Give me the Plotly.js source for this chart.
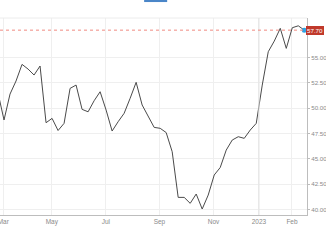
<!DOCTYPE html>
<html>
<head>
<meta charset="utf-8">
<script src="https://cdn.plot.ly/plotly-3.0.1.min.js"></script>
<style>html,body{margin:0;padding:0;background:#fff;}#chart{width:326px;height:245px;}</style>
</head>
<body>
<div id="chart"></div>
<script>
// Weekly values
const values = [51.5, 48.83, 51.39, 52.68, 54.32, 53.86, 53.27, 54.16, 48.56, 48.99,
  47.79, 48.50, 51.95, 52.28, 49.88, 49.64, 50.73, 51.62, 49.81, 47.74,
  48.66, 49.49, 50.97, 52.55, 50.31, 49.15, 48.10, 48.01, 47.59, 45.70,
  41.19, 41.19, 40.60, 41.52, 40.04, 41.42, 43.40, 44.14, 45.86, 46.85,
  47.18, 47.02, 47.84, 48.50, 52.28, 55.57, 56.62, 57.88, 55.90, 57.94,
  58.13, 57.70];
const xTickLabels = ["Mar", "May", "Jul", "Sep", "Nov", "2023", "Feb"];
const yTickValues = [40, 42.5, 45, 47.5, 50, 52.5, 55];
const lastValue = values[values.length - 1];

const idx = values.map((v, i) => i);
const lastIdx = idx[idx.length - 1];

const fontFam = "Liberation Sans, Arial, sans-serif";

const traces = [
  {x: idx, y: values, type: 'scatter', mode: 'lines',
   line: {color: '#4a4a4a', width: 1}, hoverinfo: 'skip', showlegend: false},
  {x: [lastIdx], y: [lastValue], type: 'scatter', mode: 'markers',
   marker: {color: '#2ea3e3', size: 5}, showlegend: false, hoverinfo: 'skip'}
];

const layout = {
  width: 326, height: 245,
  margin: {l: 0, r: 19, t: 18, b: 30},
  paper_bgcolor: '#ffffff', plot_bgcolor: '#ffffff',
  showlegend: false,
  font: {family: fontFam, size: 6.3, color: '#8a8a8a'},
  xaxis: {
    range: [0.33, 51.45],
    tickmode: 'array',
    tickvals: [0.88, 8.95, 17.95, 26.88, 35.88, 43.45, 48.95],
    ticktext: xTickLabels,
    showgrid: true, gridcolor: '#efefef', gridwidth: 1,
    showline: true, linecolor: '#bdbdbd', linewidth: 1,
    ticks: '', zeroline: false, automargin: false,
    ticklabeloverflow: 'allow',
    tickfont: {family: fontFam, size: 6.5, color: '#8a8a8a'}
  },
  yaxis: {
    side: 'right',
    range: [39.45, 58.9],
    tickmode: 'array',
    tickvals: yTickValues,
    ticktext: yTickValues.map(v => v.toFixed(2)),
    showgrid: true, gridcolor: '#efefef', gridwidth: 1,
    showline: true, linecolor: '#bdbdbd', linewidth: 1,
    ticks: 'outside', ticklen: 2, tickcolor: '#bdbdbd',
    zeroline: false, automargin: false,
    ticklabeloverflow: 'allow',
    tickfont: {family: fontFam, size: 6.2, color: '#8a8a8a'}
  },
  shapes: [
    {type: 'line', xref: 'paper', yref: 'paper', x0: 0, x1: 1, y0: 1, y1: 1,
     line: {color: '#ececec', width: 1}},
    {type: 'line', xref: 'x', yref: 'paper', x0: 43.45, x1: 43.45, y0: 0, y1: 1,
     line: {color: '#e2e2e2', width: 1}},
    {type: 'line', xref: 'paper', yref: 'y', x0: 0, x1: 1, y0: lastValue, y1: lastValue,
     line: {color: '#f08a80', width: 1, dash: '3px,3px'}},
    {type: 'rect', xref: 'paper', yref: 'paper', x0: 0.4695, x1: 0.5445, y0: 1.081, y1: 1.095,
     fillcolor: '#4a86c8', line: {width: 0}}
  ],
  annotations: [
    {xref: 'paper', yref: 'y', x: 1, y: lastValue, xanchor: 'left', yanchor: 'middle',
     xshift: -1, text: lastValue.toFixed(2), showarrow: false,
     font: {family: fontFam, size: 6.2, color: '#ffffff'},
     bgcolor: '#c0392b', borderpad: 1, bordercolor: '#c0392b', borderwidth: 0}
  ]
};

Plotly.newPlot('chart', traces, layout, {staticPlot: true, displayModeBar: false});
</script>
</body>
</html>
